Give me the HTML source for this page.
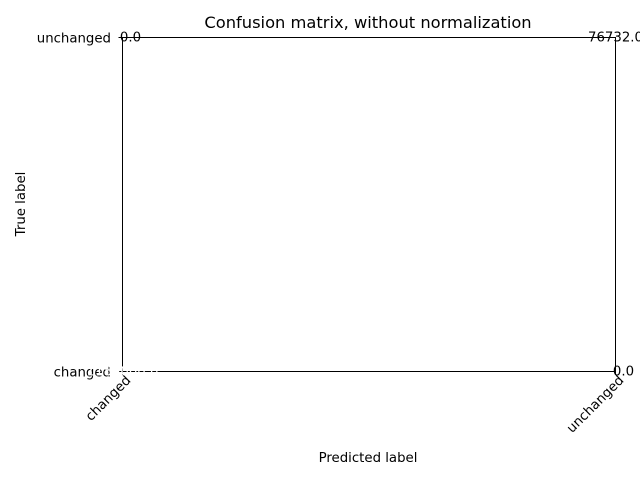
<!DOCTYPE html>
<html><head><meta charset="utf-8"><style>body{margin:0;background:#fff}svg{display:block;font-family:"DejaVu Sans","Liberation Sans",sans-serif}</style></head>
<body>
<svg width="640" height="480">
<text x="368" y="28" font-size="16.3" text-anchor="middle">Confusion matrix, without normalization</text>
<rect x="122.5" y="37.5" width="493" height="334" fill="none" stroke="#000" stroke-width="1"/>
<g id="ticks"></g>
<g id="cells"></g>
<text x="368" y="462" font-size="13.3" text-anchor="middle">Predicted label</text>
<text transform="translate(25,204) rotate(-90)" font-size="13.3" text-anchor="middle">True label</text>
</svg>
<script>
const xCats=["changed","unchanged"];
const yCats=["changed","unchanged"];
const cellValues=[[0,0],[0,76732]]; // rows: changed, unchanged
const cellLabels=[["1188000.0","0.0"],["0.0","76732.0"]];
const ns="http://www.w3.org/2000/svg";
const X=i=>122.5+i*493/(xCats.length-1);
const Y=i=>371.5-i*334/(yCats.length-1);
const tg=document.getElementById('ticks'),cg=document.getElementById('cells');
function mk(t,a,p){const e=document.createElementNS(ns,t);for(const k in a)e.setAttribute(k,a[k]);p.appendChild(e);return e;}
xCats.forEach((c,i)=>{
 const l=mk('line',{x1:X(i),x2:X(i),y1:371.5,y2:375,stroke:'#000','stroke-width':1},tg);
 
 
 const t=mk('text',{transform:`translate(${X(i)+9},${381}) rotate(-45)`,'font-size':13.3,'text-anchor':'end'},tg);
 t.textContent=c;
 
 
});
yCats.forEach((r,i)=>{
 const l=mk('line',{x1:118.5,x2:122.5,y1:Y(i),y2:Y(i),stroke:'#000','stroke-width':1},tg);
 
 
 const t=mk('text',{x:111,y:Y(i)+5,'font-size':13.3,'text-anchor':'end'},tg);
 t.textContent=r;
 
 
});
yCats.forEach((r,ri)=>xCats.forEach((c,ci)=>{
 const v=cellValues[ri][ci];
 const white=(ri===0&&ci===0);
 const t=mk('text',{x:X(ci)+(ci===0?(white?0:8):(ri===0?8:0)),y:Y(ri)+4,'font-size':13.3,'text-anchor':'middle',fill:white?'#fff':'#000'},cg);
 t.textContent=cellLabels[ri][ci];
 
 
}));
</script>
</body></html>
